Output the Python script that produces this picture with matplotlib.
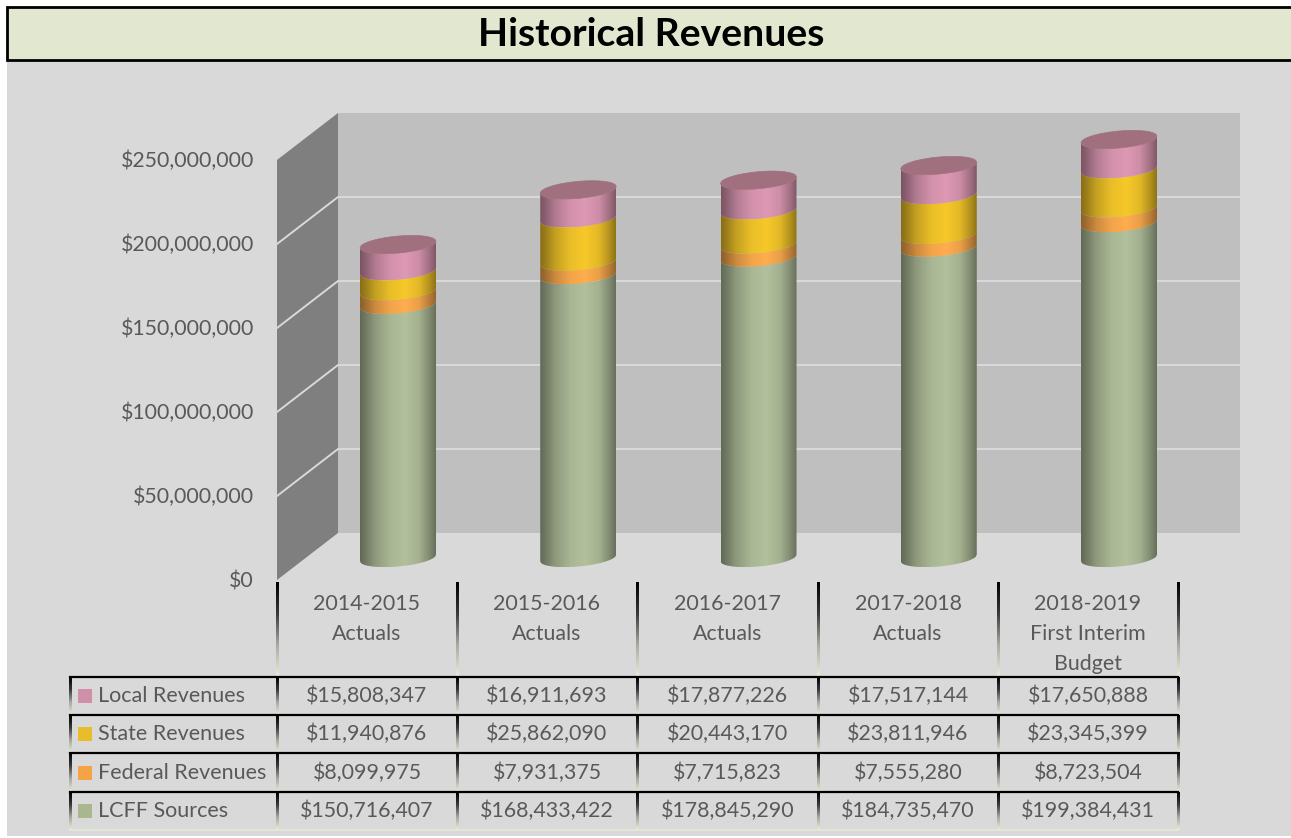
import matplotlib
matplotlib.use('Agg')
import matplotlib.pyplot as plt
from matplotlib.colors import LinearSegmentedColormap, to_rgb
from matplotlib.path import Path
from matplotlib.patches import Rectangle
import numpy as np

plt.rcParams['font.family'] = ['Lato', 'DejaVu Sans']

# Data
categories = ['2014-2015\nActuals', '2015-2016\nActuals', '2016-2017\nActuals',
              '2017-2018\nActuals', '2018-2019\nFirst Interim\nBudget']
lcff = [150716407, 168433422, 178845290, 184735470, 199384431]
federal = [8099975, 7931375, 7715823, 7555280, 8723504]
state = [11940876, 25862090, 20443170, 23811946, 23345399]
local = [15808347, 16911693, 17877226, 17517144, 17650888]
y_ticks = [0, 50000000, 100000000, 150000000, 200000000, 250000000]

# Stack order, bottom to top
stack_names = ['LCFF Sources', 'Federal Revenues', 'State Revenues', 'Local Revenues']
stack_values = [lcff, federal, state, local]
stack_colors = ['#B2C09C', '#FFAD4E', '#F6C82A', '#DE99B4']
key_colors = ['#A9B78F', '#F5A347', '#E8BC2A', '#D08FA9']

text_col = '#595959'
W, H = 1291, 838
DOLLAR_PER_PX = 50000000 / 84   # from the gridline spacing
PX_PER_CAT = 180.25
X0_PX, Y0_PX = 398, 558         # centre of first cylinder base

fig = plt.figure(figsize=(W / 100, H / 100), dpi=100, facecolor='white')

# Pixel axes for the frame and the table
ax_px = fig.add_axes([0, 0, 1, 1])
ax_px.set_xlim(0, W)
ax_px.set_ylim(H, 0)
ax_px.axis('off')

# Chart axes: x is the category index, y is dollars
ax = fig.add_axes([0, 0, 1, 1], facecolor='none')
ax.set_xlim(-X0_PX / PX_PER_CAT, (W - X0_PX) / PX_PER_CAT)
ax.set_ylim((Y0_PX - H) * DOLLAR_PER_PX, Y0_PX * DOLLAR_PER_PX)
ax.axis('off')


def xcat(px):
    return (px - X0_PX) / PX_PER_CAT


def fade_line(x, y0, y1, width=2.2):
    cm = LinearSegmentedColormap.from_list('fade', ['#000000', '#3A3A3A', '#A8A8A0', '#E2EBD5'])
    ax_px.imshow(np.linspace(0, 1, 40).reshape(-1, 1), cmap=cm, aspect='auto',
                 extent=[x - width / 2, x + width / 2, y1, y0], zorder=3)


# Background and title bar
ax_px.add_patch(Rectangle((7, 60), W - 7, 776, fc='#D9D9D9', ec='none', zorder=0))
ax_px.add_patch(Rectangle((7, 7), W + 5, 53, fc='#E2E8CF', ec='black', lw=2, zorder=1))
ax_px.text(651, 35, 'Historical Revenues', ha='center', va='center', fontsize=28.2,
           fontweight='bold', color='black', zorder=2)

# Walls
top = y_ticks[-1]
front_x, back_x, right_x = xcat(277), xcat(338), xcat(1240)
front_off = (Y0_PX - 580) * DOLLAR_PER_PX
back_off = (Y0_PX - 533) * DOLLAR_PER_PX
ax.fill([back_x, right_x, right_x, back_x],
        [back_off, back_off, back_off + top, back_off + top], color='#BFBFBF', lw=0, zorder=1)
ax.fill([front_x, back_x, back_x, front_x],
        [front_off, back_off, back_off + top, front_off + top], color='#7F7F7F', lw=0, zorder=1)
for v in y_ticks[1:-1]:
    ax.plot([front_x, back_x, right_x], [front_off + v, back_off + v, back_off + v],
            color='#D9D9D9', lw=1.4, zorder=2, solid_joinstyle='miter')
for v in y_ticks:
    ax.text(xcat(254), front_off + v + 1 * DOLLAR_PER_PX, f'${v:,}', ha='right', va='center_baseline',
            fontsize=15.3, color=text_col, zorder=5)

# Cylinders
half_w = 38 / PX_PER_CAT
depth = 8.5 * DOLLAR_PER_PX
tilt = 3.3 * DOLLAR_PER_PX
t = np.linspace(-1, 1, 80)
stops_x = [0, 0.06, 0.2, 0.4, 0.6, 0.78, 0.92, 1]
stops_f = [0.55, 0.62, 0.8, 0.95, 1.0, 0.92, 0.72, 0.58]


def front_arc(cx, base):
    return cx + t * half_w, base + tilt * t - depth * np.sqrt(1 - t ** 2)


def back_arc(cx, base):
    return cx + t * half_w, base + tilt * t + depth * np.sqrt(1 - t ** 2)


for i in range(len(categories)):
    base = 0
    for values, col in zip(stack_values, stack_colors):
        x0, y0 = front_arc(i, base)
        x1, y1 = front_arc(i, base + values[i])
        verts = np.column_stack([np.r_[x0, x1[::-1], x0[0]], np.r_[y0, y1[::-1], y0[0]]])
        rgb = np.array(to_rgb(col))
        grad = np.interp(np.linspace(0, 1, 120), stops_x, stops_f)[None, :, None] * rgb
        im = ax.imshow(grad, aspect='auto', zorder=4,
                       extent=[i - half_w, i + half_w, min(y0.min(), y1.min()), max(y0.max(), y1.max())])
        im.set_clip_path(Path(verts), ax.transData)
        base += values[i]
    xf, yf = front_arc(i, base)
    xb, yb = back_arc(i, base)
    ax.fill(np.r_[xf, xb[::-1]], np.r_[yf, yb[::-1]], color='#A0707F', lw=0.5, zorder=5)

# imshow changes the limits
ax.set_xlim(-X0_PX / PX_PER_CAT, (W - X0_PX) / PX_PER_CAT)
ax.set_ylim((Y0_PX - H) * DOLLAR_PER_PX, Y0_PX * DOLLAR_PER_PX)

# Data table
col_edges = [277, 457, 637, 818, 998, 1178]
row_tops = [677, 715, 753, 792]
row_bottom = 830
table_left = 70
rows = list(zip(stack_names[::-1], stack_values[::-1], key_colors[::-1]))

for j, label in enumerate(categories):
    cx = (col_edges[j] + col_edges[j + 1]) / 2
    ax_px.text(cx, 594, label, ha='center', va='top', fontsize=15.4, color=text_col,
               linespacing=1.62, zorder=4)
for x in col_edges:
    fade_line(x, 582, 676)

for r, (name, values, key) in enumerate(rows):
    ytop = row_tops[r]
    ybot = row_tops[r + 1] if r < 3 else row_bottom
    ymid = (ytop + ybot) / 2
    ax_px.plot([table_left, col_edges[-1]], [ytop, ytop], color='black', lw=1.6, zorder=4)
    for x in [table_left] + col_edges:
        fade_line(x, ytop, ybot)
    ax_px.add_patch(Rectangle((78, ymid - 7), 14, 14, fc=key, ec='none', zorder=4))
    ax_px.text(98, ymid, name, ha='left', va='center', fontsize=15.5, color=text_col, zorder=4)
    for j, v in enumerate(values):
        cx = (col_edges[j] + col_edges[j + 1]) / 2
        ax_px.text(cx, ymid, f'${v:,}', ha='center', va='center', fontsize=15.4,
                   color=text_col, zorder=4)
ax_px.plot([table_left, col_edges[-1]], [row_bottom, row_bottom], color='#E2EBD5', lw=1.2, zorder=4)

# imshow changes the limits here too
ax_px.set_xlim(0, W)
ax_px.set_ylim(H, 0)

plt.savefig('out.png', dpi=100)
